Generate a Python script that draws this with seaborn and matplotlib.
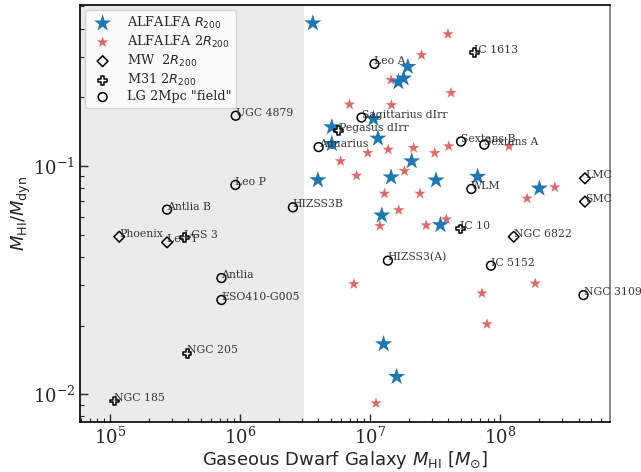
import matplotlib
matplotlib.use("Agg")
import matplotlib.pyplot as plt
import seaborn as sns
import pandas as pd

# ALFALFA dwarfs, gas fraction measured inside R200
alf_r200_mhi = [3.63e6, 1.95e7, 1.81e7, 1.65e7, 1.06e7, 5.08e6, 5.08e6, 1.15e7, 2.09e7,
                3.97e6, 1.45e7, 3.21e7, 1.23e7, 3.47e7, 6.71e7, 2.0e8, 1.27e7, 1.60e7]
alf_r200_frac = [0.422, 0.272, 0.242, 0.233, 0.161, 0.148, 0.125, 0.132, 0.105,
                 0.0868, 0.0893, 0.0866, 0.0608, 0.0552, 0.0898, 0.0798, 0.0166, 0.01194]

# ALFALFA dwarfs, gas fraction measured inside 2 R200
alf_2r200_mhi = [3.97e7, 2.49e7, 1.45e7, 4.19e7, 6.95e6, 1.46e7, 9.60e6, 1.38e7, 2.16e7,
                 3.14e7, 4.02e7, 5.93e6, 7.87e6, 1.84e7, 1.29e7, 2.42e7, 1.66e7, 1.19e7,
                 2.70e7, 3.86e7, 1.17e8, 2.63e8, 1.61e8, 7.50e6, 7.25e7, 1.86e8, 7.92e7,
                 1.11e7]
alf_2r200_frac = [0.378, 0.306, 0.238, 0.209, 0.186, 0.185, 0.114, 0.118, 0.120,
                  0.114, 0.122, 0.105, 0.0907, 0.0951, 0.0757, 0.0757, 0.0641, 0.0546,
                  0.0550, 0.0584, 0.122, 0.0807, 0.0721, 0.0304, 0.0277, 0.0306, 0.0203,
                  0.00914]

# Milky Way satellites
mw_names = ["Phoenix", "Leo T", "LMC", "SMC", "NGC 6822"]
mw_mhi = [1.18e5, 2.75e5, 4.48e8, 4.48e8, 1.27e8]
mw_frac = [0.0490, 0.0463, 0.0883, 0.0698, 0.0490]

# M31 satellites
m31_names = ["LGS 3", "NGC 205", "NGC 185", "IC 1613", "Pegasus dIrr", "IC 10"]
m31_mhi = [3.72e5, 3.92e5, 1.08e5, 6.33e7, 5.75e6, 4.94e7]
m31_frac = [0.0485, 0.0151, 0.00935, 0.313, 0.143, 0.0530]

# Local Group field dwarfs within 2 Mpc
lg_names = ["UGC 4879", "Leo P", "Antlia B", "HIZSS3B", "Antlia", "ESO410-G005",
            "Leo A", "Sagittarius dIrr", "Aquarius", "Sextans B", "Sextans A", "WLM",
            "HIZSS3(A)", "IC 5152", "NGC 3109"]
lg_mhi = [9.27e5, 9.22e5, 2.75e5, 2.55e6, 7.20e5, 7.20e5, 1.08e7, 8.59e6, 4.02e6,
          5.00e7, 7.55e7, 6.00e7, 1.37e7, 8.49e7, 4.37e8]
lg_frac = [0.166, 0.0826, 0.0644, 0.0659, 0.0323, 0.0259, 0.280, 0.163, 0.121,
           0.128, 0.124, 0.0793, 0.0385, 0.0366, 0.0272]

sns.set_theme(style="ticks")
plt.rcParams["font.family"] = ["DejaVu Serif"]
plt.rcParams["mathtext.fontset"] = "dejavusans"

fig = plt.figure(figsize=(6.41, 4.72), dpi=100)
ax = fig.add_axes([0.1248, 0.1066, 0.8268, 0.8828])

ax.axvspan(5e4, 3.1e6, color="#ebebeb", zorder=0, lw=0)

sns.scatterplot(x=alf_2r200_mhi, y=alf_2r200_frac, ax=ax, marker="*", s=75,
                color="tab:red", alpha=0.7, edgecolor="none",
                label=r"ALFALFA 2$R_{200}$", zorder=3)
sns.scatterplot(x=alf_r200_mhi, y=alf_r200_frac, ax=ax, marker="*", s=170,
                color="tab:blue", edgecolor="none", label=r"ALFALFA $R_{200}$", zorder=4)

open_kw = dict(facecolor="none", edgecolor="black", linewidth=1.1, zorder=5)
sns.scatterplot(x=mw_mhi, y=mw_frac, ax=ax, marker="D", s=30,
                label=r"MW  2$R_{200}$", **open_kw)
sns.scatterplot(x=m31_mhi, y=m31_frac, ax=ax, marker="P", s=40,
                label=r"M31 2$R_{200}$", **open_kw)
sns.scatterplot(x=lg_mhi, y=lg_frac, ax=ax, marker="o", s=40,
                label='LG 2Mpc "field"', **open_kw)

for names, xs, ys in [(mw_names, mw_mhi, mw_frac), (m31_names, m31_mhi, m31_frac),
                      (lg_names, lg_mhi, lg_frac)]:
    for n, xv, yv in zip(names, xs, ys):
        ax.text(xv, yv, n, fontsize=7.8, color="#222222", alpha=0.9, zorder=6)

ax.set_xscale("log")
ax.set_yscale("log")
ax.set_xlim(5.89e4, 6.98e8)
ax.set_ylim(0.00759, 0.507)

ax.set_xlabel(r"Gaseous Dwarf Galaxy $M_{\rm HI}$ [$M_{\odot}$]", fontsize=13,
              family="DejaVu Sans", labelpad=1)
ax.set_ylabel(r"$M_{\rm HI}/M_{\rm dyn}$", fontsize=13, family="DejaVu Sans",
              labelpad=0)

ax.tick_params(which="both", direction="in", top=False, right=False, labelsize=13)
ax.tick_params(which="major", length=6, width=1)
ax.tick_params(which="minor", length=3, width=0.8)
for s in ["left", "bottom", "top"]:
    ax.spines[s].set_color("black")
    ax.spines[s].set_linewidth(1.2)
ax.spines["right"].set_color("#777777")

handles, labels = ax.get_legend_handles_labels()
order = [1, 0, 2, 3, 4]
ax.legend([handles[i] for i in order], [labels[i] for i in order], loc="upper left",
          fontsize=9.3, framealpha=0.8, borderaxespad=0.4, labelspacing=0.22,
          handletextpad=0.9, borderpad=0.35)

fig.savefig("out.png", dpi=100)
